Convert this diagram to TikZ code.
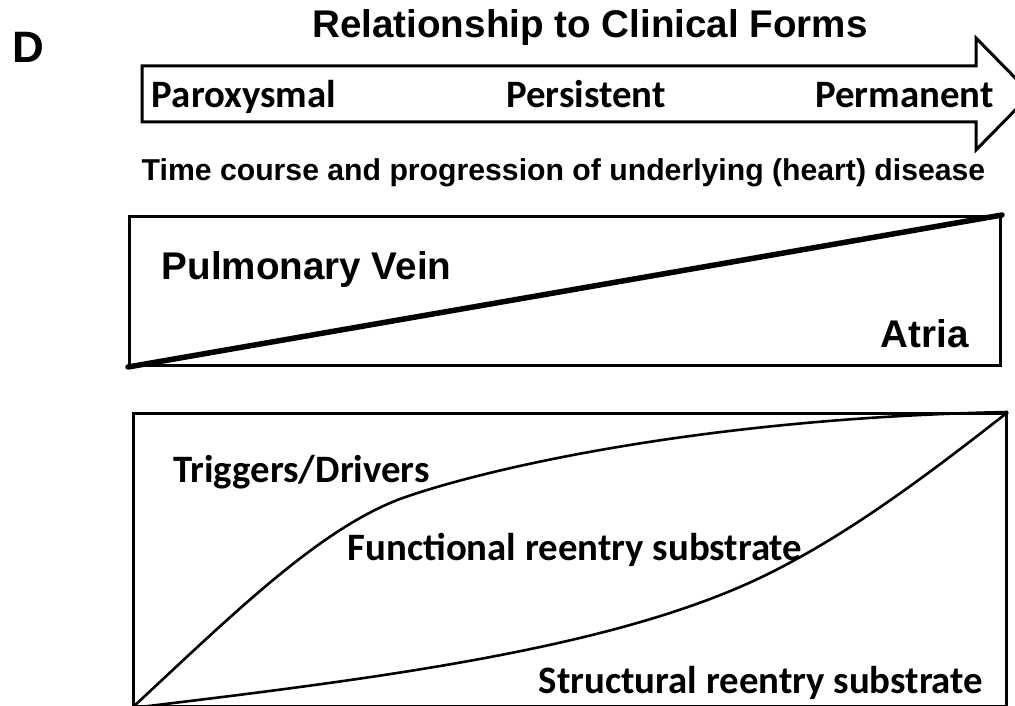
\documentclass[tikz,border=0pt]{standalone}
\usepackage{fontspec}
\setmainfont{Liberation Sans}
\newfontfamily\arialb{Liberation Sans}
\newfontfamily\calb{Carlito}
\begin{document}
\begin{tikzpicture}[x=1pt,y=-1pt,
  outline/.style={draw=black,line width=3pt,line join=miter},
  lbl/.style={inner sep=0pt,anchor=base,text=black},
  arialtxt/.style={lbl,font=\arialb\bfseries\fontsize{38.6}{40}\selectfont},
  calitxt/.style={lbl,font=\calb\bfseries\fontsize{38.8}{40}\selectfont},
  curve/.style={draw=black,line width=2.6pt}]
\useasboundingbox[fill=white] (0,0) rectangle (1015,706);
\clip (0,0) rectangle (1015,706);
% panel letter and title
\node[arialtxt,font=\arialb\bfseries\fontsize{44}{46}\selectfont] (D) at (28,63) {D};
\node[arialtxt] (title) at (590,38) {Relationship to Clinical Forms};
% big arrow
\coordinate (a1) at (142,66);
\coordinate (a2) at (976,66);
\coordinate (a3) at (976,38);
\coordinate (tip) at (1031,94);
\coordinate (a5) at (976,150);
\coordinate (a6) at (976,122);
\coordinate (a7) at (142,122);
\draw[outline] (a1) -- (a2) -- (a3) -- (tip) -- (a5) -- (a6) -- (a7) -- cycle;
\node[calitxt] (parox) at (244,108) {Paroxysmal};
\node[calitxt] (pers) at (586,108) {Persistent};
\node[calitxt] (perm) at (904.5,108) {Permanent};
\node[arialtxt,font=\arialb\bfseries\fontsize{30.2}{32}\selectfont] (time) at (563.5,180) {Time course and progression of underlying (heart) disease};
% box 2
\node[outline,minimum width=871pt,minimum height=149pt,inner sep=0pt,anchor=north west] (box2) at (128,215) {};
\draw[line width=5.5pt,line cap=round] (box2.south west) -- (box2.north east);
\node[arialtxt] (pv) at (306.5,279) {Pulmonary Vein};
\node[arialtxt] (atria) at (924.5,347) {Atria};
% box 3
\node[outline,minimum width=873pt,minimum height=293pt,inner sep=0pt,anchor=north west] (box3) at (132,412) {};
\coordinate (u1) at (400,499);
\coordinate (l1) at (770,573);
\draw[curve] (box3.south west) .. controls (232,615) and (318,530) .. (u1)
   .. controls (480,470) and (700,418) .. (box3.north east);
\draw[curve] (box3.south west) .. controls (382,678) and (620,648) .. (l1)
   .. controls (850,533) and (925,477) .. (box3.north east);
\node[calitxt] (trig) at (301.5,482) {Triggers/Drivers};
\node[calitxt] (func) at (575,560) {Functional reentry substrate};
\node[calitxt] (struct) at (761,693) {Structural reentry substrate};
\end{tikzpicture}
\end{document}
